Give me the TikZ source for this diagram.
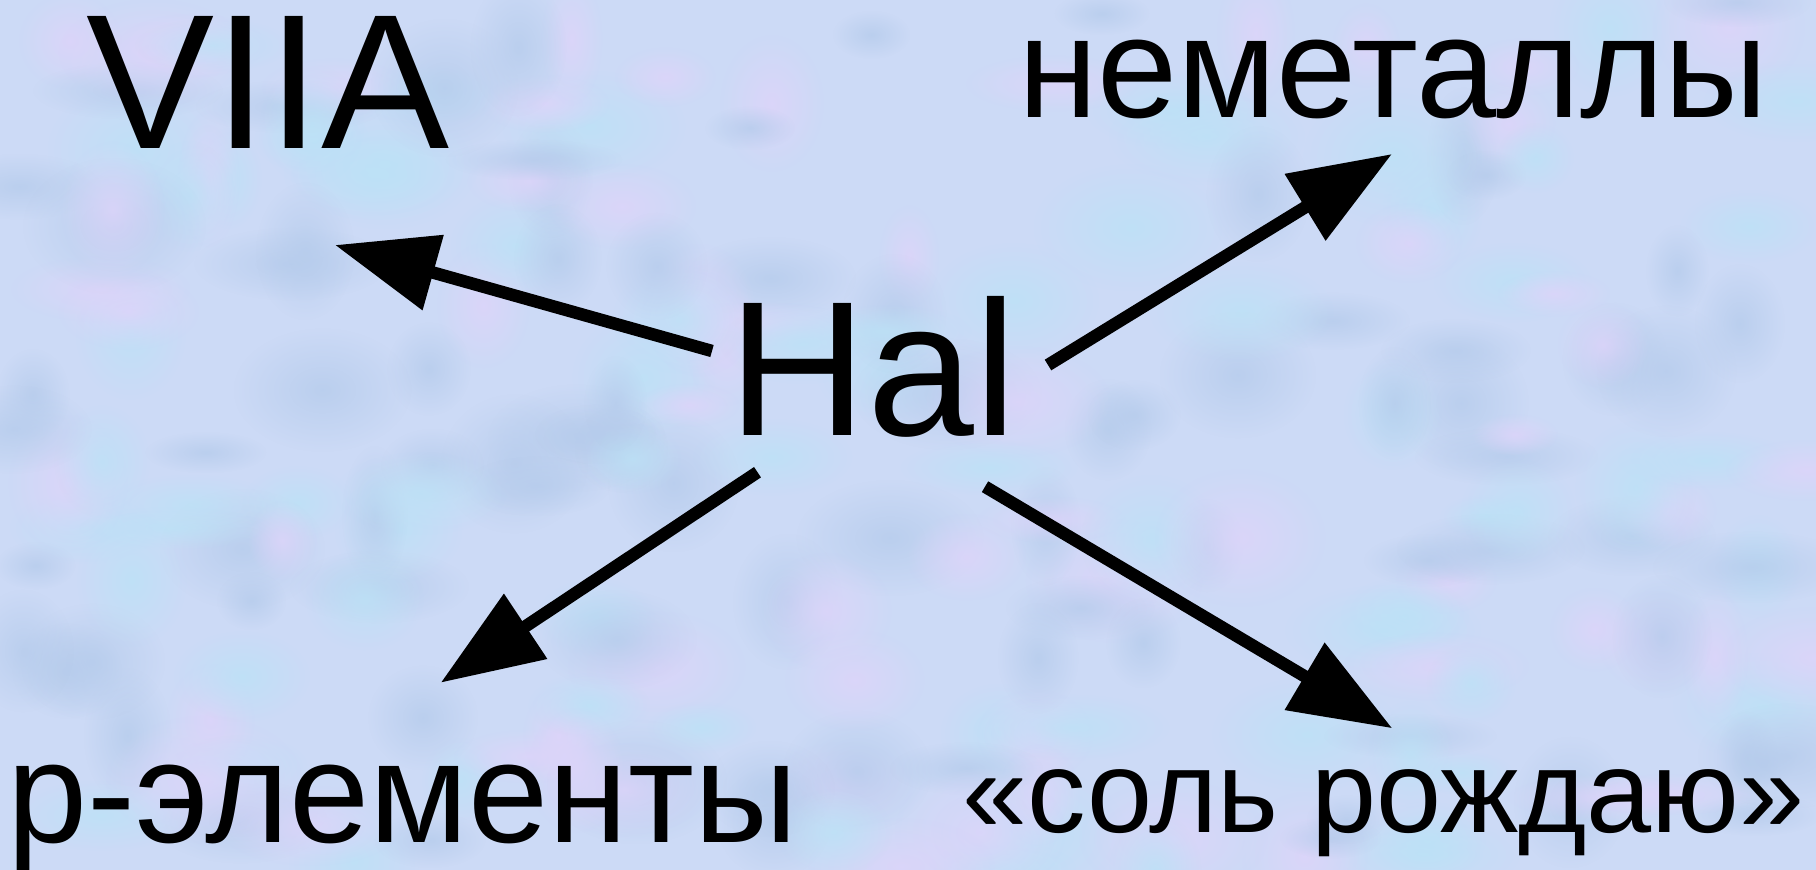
\documentclass[tikz,border=0pt]{standalone}
\usepackage{fontspec}
\setmainfont{Liberation Sans}
\usetikzlibrary{arrows.meta,fadings}
\definecolor{bgbase}{RGB}{204,218,246}
\definecolor{bgcyan}{RGB}{188,226,246}
\definecolor{bglav}{RGB}{222,212,250}
\definecolor{bgblue}{RGB}{182,204,236}
\tikzfading[name=softblob, inner color=transparent!0, outer color=transparent!100]
\tikzset{
  big/.style={inner sep=0pt, anchor=base, font=\fontsize{192}{230}\selectfont},
  mid/.style={inner sep=0pt, anchor=base, font=\fontsize{144}{172}\selectfont},
  small/.style={inner sep=0pt, anchor=base, font=\fontsize{117}{140}\selectfont},
  arr/.style={line width=12.5pt, -{Triangle[length=102pt,width=75pt]}},
  blob/.style={path fading=softblob, opacity=0.8}
}
\begin{document}
\begin{tikzpicture}[x=1pt,y=-1pt]
\useasboundingbox (0,0) rectangle (1816,870);
\fill[bgbase] (0,0) rectangle (1816,870);
\pgfmathsetseed{12}
\foreach \i in {1,...,220}{
  \pgfmathsetmacro{\px}{rnd*1816}
  \pgfmathsetmacro{\py}{rnd*870}
  \pgfmathsetmacro{\rw}{30+rnd*70}
  \pgfmathsetmacro{\rh}{20+rnd*50}
  \pgfmathsetmacro{\c}{int(rnd*3)}
  \ifnum\c=0 \fill[bgcyan,blob] (\px,\py) ellipse ({\rw} and {\rh});\fi
  \ifnum\c=1 \fill[bglav,blob] (\px,\py) ellipse ({\rw} and {\rh});\fi
  \ifnum\c=2 \fill[bgblue,blob] (\px,\py) ellipse ({\rw} and {\rh});\fi
}
\node[big] (viia) at (267.7,148.3) {VIIA};
\node[big] (hal) at (873,435) {Hal};
\node[mid] (nemet) at (1393,117.5) {неметаллы};
\node[mid] (pel) at (402.5,842) {p-элементы};
\node[small] (sol) at (1383.5,832) {«соль рождаю»};
\coordinate (s1) at (712,351);
\coordinate (e1) at (335,245);
\coordinate (s2) at (1048,365);
\coordinate (e2) at (1392,154);
\coordinate (s3) at (757.5,472.2);
\coordinate (e3) at (440.7,682.7);
\coordinate (s4) at (985,486.7);
\coordinate (e4) at (1392.3,728.3);
\draw[arr] (s1) -- (e1);
\draw[arr] (s2) -- (e2);
\draw[arr] (s3) -- (e3);
\draw[arr] (s4) -- (e4);
\end{tikzpicture}
\end{document}
